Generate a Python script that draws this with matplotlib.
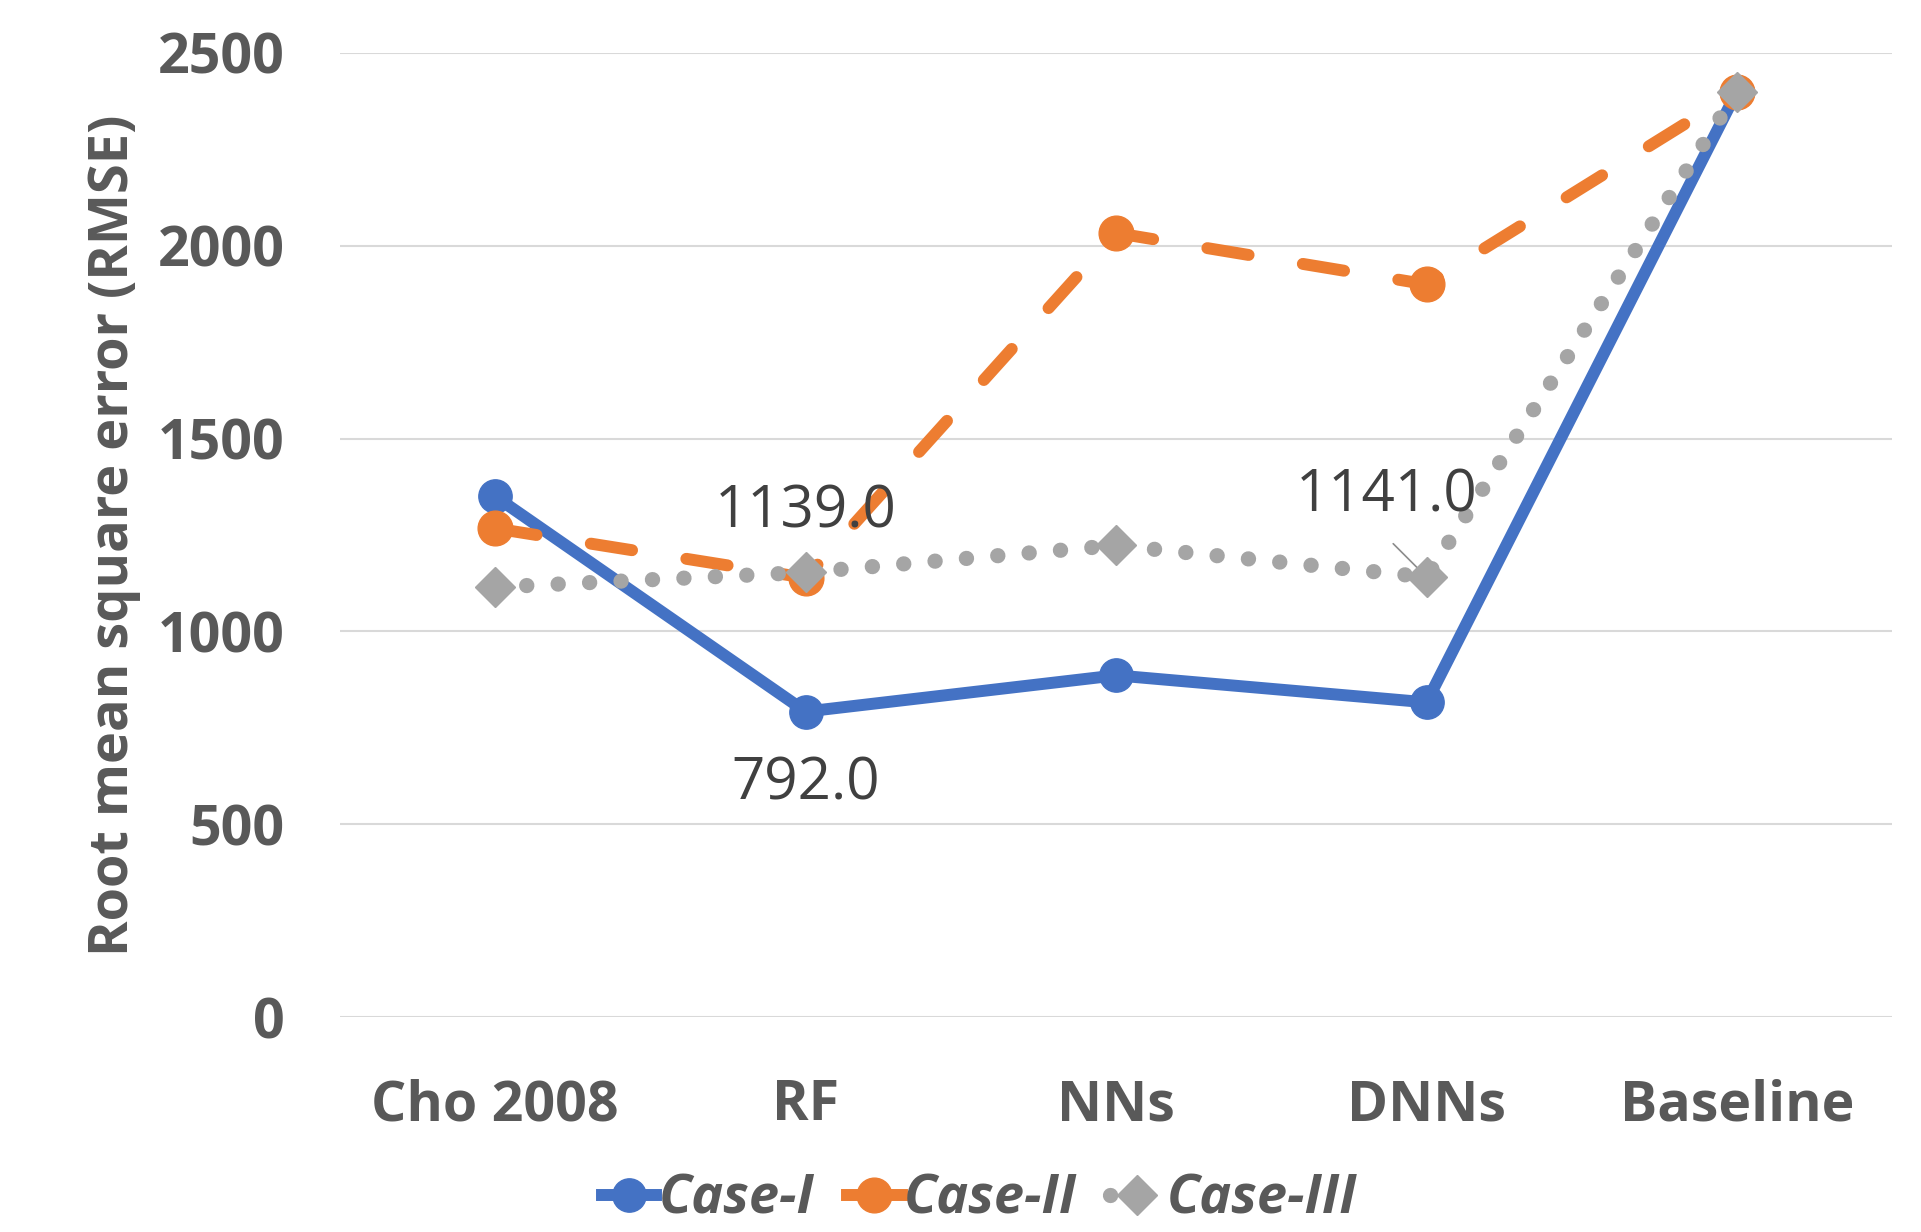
import matplotlib
matplotlib.use("Agg")
import matplotlib.pyplot as plt
from matplotlib.lines import Line2D

categories = ["Cho 2008", "RF", "NNs", "DNNs", "Baseline"]
case_i = [1350, 792, 886, 816, 2400]
case_ii = [1267, 1139, 2033, 1900, 2400]
case_iii = [1115, 1153, 1223, 1141, 2400]
series_names = ["Case-I", "Case-II", "Case-III"]
yticks = [0, 500, 1000, 1500, 2000, 2500]

BLUE = "#4472C4"
ORANGE = "#ED7D31"
GRAY = "#A5A5A5"
TXT = "#595959"
LBL = "#404040"

plt.rcParams['font.family'] = ['Open Sans', 'DejaVu Sans']

fig = plt.figure(figsize=(19.21, 12.32), dpi=100)
ax = fig.add_axes([0.177, 0.1745, 0.808, 0.7825])

x = list(range(len(categories)))

ax.plot(x, case_i, color=BLUE, lw=8.6, marker='o', markersize=24,
        solid_joinstyle='round', zorder=3, label=series_names[0])
ax.plot(x, case_ii, color=ORANGE, lw=8.6, marker='o', markersize=25,
        linestyle=(0, (3.5, 4.6)), dash_capstyle='round', zorder=4, label=series_names[1])
ax.plot(x, case_iii, color=GRAY, lw=11, marker='D', markersize=20,
        linestyle=(0, (0.01, 2.05)), dash_capstyle='round', zorder=5, label=series_names[2])

ax.set_xlim(-0.5, 4.5)
ax.set_ylim(0, 2500)
ax.set_yticks(yticks)
ax.set_yticklabels([str(v) for v in yticks])
ax.set_xticks(x)
ax.set_xticklabels(categories)
ax.grid(axis='y', color='#D9D9D9', lw=1.5, zorder=0)
ax.set_axisbelow(True)
for s in ax.spines.values():
    s.set_visible(False)
ax.tick_params(length=0)
ax.tick_params(axis='y', pad=40, labelsize=40, labelcolor=TXT)
ax.tick_params(axis='x', pad=44, labelsize=40, labelcolor=TXT)
for t in ax.get_yticklabels() + ax.get_xticklabels():
    t.set_fontweight('bold')

ax.set_ylabel("Root mean square error (RMSE)", fontsize=39, fontweight='bold',
              color=TXT, labelpad=12)

# data labels
ax.annotate(f"{case_ii[1]:.1f}", xy=(1, case_ii[1]), xytext=(0, 47),
            textcoords='offset points', ha='center', va='center',
            fontsize=42, color=LBL, zorder=6)
ax.annotate(f"{case_i[1]:.1f}", xy=(1, case_i[1]), xytext=(0, -52),
            textcoords='offset points', ha='center', va='center',
            fontsize=42, color=LBL, zorder=6)
ax.annotate(f"{case_iii[3]:.1f}", xy=(3, case_iii[3]), xytext=(-29, 58),
            textcoords='offset points', ha='center', va='center',
            fontsize=42, color=LBL, zorder=6)
ax.annotate("", xy=(3, case_iii[3]), xytext=(-24, 24), textcoords='offset points',
            arrowprops=dict(arrowstyle='-', color='#8C8C8C', lw=1.2,
                            shrinkA=0, shrinkB=8))

handles = [
    Line2D([], [], color=BLUE, lw=8.6, marker='o', markersize=24),
    Line2D([], [], color=ORANGE, lw=8.6, marker='o', markersize=25),
    Line2D([], [], color=GRAY, lw=11, marker='D', markersize=20, linestyle=(0, (0.01, 2.05)),
           dash_capstyle='round'),
]
leg = fig.legend(handles, series_names, loc='center', bbox_to_anchor=(0.51, 0.026),
                 ncol=3, frameon=False, handlelength=1.0, handletextpad=0.05,
                 columnspacing=0.6,
                 prop={'size': 39, 'style': 'italic', 'weight': 'bold'})
for t in leg.get_texts():
    t.set_color(TXT)

fig.savefig("out.png", dpi=100)
